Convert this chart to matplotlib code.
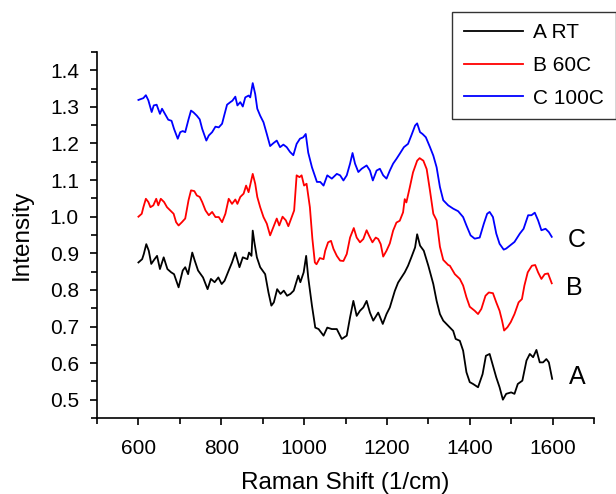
import matplotlib
matplotlib.use("Agg")
import matplotlib.pyplot as plt
from matplotlib.ticker import MultipleLocator, FormatStrFormatter

plt.rcParams['font.family'] = ['Liberation Sans', 'DejaVu Sans']

# ---- data ----
xa = [600, 609, 613, 619, 625, 631, 639, 645, 652, 661, 670, 679, 686, 697, 707, 713, 720, 730, 736, 744,
      756, 767, 775, 784, 793, 801, 808, 818, 826, 834, 844, 852, 863, 867, 873, 876, 880, 886, 894, 906,
      914, 921, 927, 935, 943, 951, 959, 967, 975, 986, 991, 999, 1005, 1010, 1019, 1027, 1035, 1047, 1056,
      1067, 1079, 1091, 1103, 1111, 1119, 1127, 1135, 1143, 1151, 1159, 1167, 1179, 1190, 1199, 1207, 1219,
      1227, 1235, 1243, 1251, 1259, 1268, 1273, 1280, 1289, 1300, 1312, 1320, 1328, 1336, 1348, 1360, 1366,
      1376, 1384, 1392, 1400, 1408, 1420, 1431, 1439, 1448, 1455, 1464, 1472, 1480, 1488, 1500, 1508, 1516,
      1527, 1537, 1545, 1553, 1561, 1569, 1577, 1585, 1591, 1599]
ya = [0.875, 0.884, 0.898, 0.925, 0.907, 0.871, 0.884, 0.893, 0.857, 0.889, 0.857, 0.848, 0.843, 0.807, 0.853,
      0.862, 0.843, 0.902, 0.880, 0.853, 0.834, 0.802, 0.830, 0.821, 0.834, 0.816, 0.825, 0.853, 0.875, 0.902,
      0.862, 0.889, 0.884, 0.902, 0.893, 0.962, 0.930, 0.889, 0.862, 0.843, 0.793, 0.757, 0.766, 0.802, 0.789,
      0.798, 0.784, 0.789, 0.798, 0.839, 0.821, 0.848, 0.893, 0.834, 0.757, 0.697, 0.693, 0.675, 0.697, 0.693,
      0.693, 0.666, 0.675, 0.725, 0.770, 0.729, 0.743, 0.752, 0.770, 0.738, 0.716, 0.738, 0.707, 0.734, 0.752,
      0.797, 0.820, 0.834, 0.848, 0.866, 0.889, 0.916, 0.952, 0.921, 0.907, 0.866, 0.816, 0.770, 0.734, 0.716,
      0.702, 0.688, 0.666, 0.661, 0.634, 0.575, 0.548, 0.543, 0.534, 0.570, 0.620, 0.625, 0.597, 0.561, 0.534,
      0.500, 0.516, 0.520, 0.516, 0.543, 0.552, 0.607, 0.625, 0.616, 0.636, 0.602, 0.602, 0.611, 0.602, 0.557]

xb = [600, 608, 612, 618, 624, 629, 636, 643, 648, 654, 662, 669, 677, 685, 691, 697, 705, 713, 721, 727,
      735, 741, 748, 754, 762, 770, 778, 786, 794, 802, 810, 818, 826, 834, 839, 846, 854, 860, 866, 876,
      882, 887, 894, 902, 910, 918, 926, 934, 940, 948, 956, 962, 970, 976, 982, 989, 994, 1000, 1006, 1014,
      1020, 1026, 1030, 1038, 1047, 1051, 1058, 1065, 1071, 1079, 1087, 1095, 1103, 1111, 1120, 1127, 1135,
      1143, 1151, 1157, 1165, 1173, 1179, 1185, 1191, 1199, 1207, 1215, 1223, 1231, 1239, 1243, 1247, 1255,
      1263, 1273, 1279, 1288, 1296, 1304, 1312, 1320, 1328, 1336, 1348, 1352, 1364, 1376, 1384, 1392, 1400,
      1412, 1420, 1428, 1438, 1446, 1456, 1464, 1472, 1478, 1483, 1491, 1499, 1508, 1518, 1526, 1532, 1540,
      1550, 1558, 1565, 1573, 1581, 1589, 1598]
yb = [1.000, 1.008, 1.026, 1.049, 1.040, 1.026, 1.031, 1.049, 1.031, 1.049, 1.040, 1.026, 1.017, 1.008, 0.985,
      0.976, 0.985, 0.995, 1.045, 1.072, 1.070, 1.058, 1.054, 1.040, 1.017, 1.004, 1.013, 0.999, 0.999, 0.985,
      1.008, 1.049, 1.035, 1.047, 1.035, 1.054, 1.063, 1.085, 1.067, 1.117, 1.090, 1.054, 1.026, 0.999, 0.981,
      0.949, 0.972, 0.995, 0.976, 1.000, 0.990, 0.974, 0.999, 1.017, 1.113, 1.108, 1.113, 1.085, 1.090, 1.026,
      0.940, 0.875, 0.870, 0.887, 0.884, 0.907, 0.930, 0.934, 0.912, 0.893, 0.880, 0.879, 0.898, 0.943, 0.969,
      0.943, 0.930, 0.939, 0.963, 0.948, 0.930, 0.943, 0.939, 0.925, 0.891, 0.907, 0.927, 0.962, 0.984, 0.989,
      1.012, 1.048, 1.039, 1.079, 1.121, 1.153, 1.160, 1.153, 1.130, 1.071, 1.008, 0.990, 0.918, 0.882, 0.868,
      0.866, 0.843, 0.830, 0.812, 0.780, 0.754, 0.743, 0.734, 0.748, 0.784, 0.793, 0.791, 0.766, 0.743, 0.716,
      0.689, 0.698, 0.712, 0.734, 0.766, 0.775, 0.812, 0.848, 0.866, 0.868, 0.848, 0.830, 0.843, 0.845, 0.818]

xc = [600, 612, 618, 624, 632, 637, 644, 652, 657, 664, 672, 680, 686, 695, 701, 707, 713, 721, 727, 733,
      741, 748, 754, 764, 770, 778, 786, 794, 802, 807, 814, 822, 827, 834, 839, 846, 852, 858, 866, 870,
      876, 882, 887, 894, 902, 910, 918, 926, 934, 942, 950, 958, 966, 974, 982, 990, 998, 1004, 1010, 1019,
      1031, 1039, 1047, 1056, 1067, 1079, 1087, 1095, 1103, 1111, 1117, 1123, 1131, 1139, 1151, 1159, 1166,
      1175, 1183, 1191, 1199, 1207, 1215, 1223, 1231, 1241, 1251, 1259, 1268, 1273, 1280, 1286, 1294, 1304,
      1312, 1320, 1328, 1336, 1348, 1360, 1372, 1384, 1392, 1402, 1412, 1424, 1434, 1442, 1448, 1456, 1464,
      1472, 1482, 1488, 1498, 1508, 1521, 1530, 1541, 1549, 1557, 1565, 1573, 1583, 1591, 1598]
yc = [1.319, 1.324, 1.332, 1.318, 1.286, 1.304, 1.306, 1.281, 1.295, 1.281, 1.265, 1.262, 1.240, 1.213, 1.231,
      1.234, 1.231, 1.266, 1.290, 1.285, 1.276, 1.266, 1.240, 1.208, 1.222, 1.231, 1.246, 1.244, 1.254, 1.276,
      1.306, 1.313, 1.317, 1.328, 1.304, 1.313, 1.301, 1.326, 1.331, 1.326, 1.365, 1.335, 1.295, 1.276, 1.258,
      1.226, 1.193, 1.201, 1.208, 1.190, 1.197, 1.190, 1.177, 1.168, 1.199, 1.213, 1.217, 1.226, 1.175, 1.135,
      1.095, 1.095, 1.085, 1.113, 1.104, 1.117, 1.113, 1.099, 1.113, 1.145, 1.174, 1.145, 1.122, 1.131, 1.140,
      1.126, 1.099, 1.126, 1.131, 1.113, 1.104, 1.126, 1.145, 1.158, 1.172, 1.190, 1.199, 1.222, 1.249, 1.255,
      1.231, 1.226, 1.217, 1.190, 1.167, 1.135, 1.081, 1.045, 1.031, 1.022, 1.015, 0.999, 0.976, 0.949, 0.940,
      0.943, 0.981, 1.008, 1.013, 0.999, 0.954, 0.926, 0.910, 0.913, 0.922, 0.931, 0.954, 0.967, 1.004, 1.004,
      1.011, 0.990, 0.963, 0.967, 0.958, 0.945]

series_labels = ['A RT', 'B 60C', 'C 100C']
series_colors = ['black', 'red', 'blue']
curve_tags = ['A', 'B', 'C']
xlabel = 'Raman Shift (1/cm)'
ylabel = 'Intensity'

fig = plt.figure(figsize=(6.16, 4.94), dpi=100)
ax = fig.add_axes([97/616, 76/494, 497/616, 366/494])

lines = []
for xs, ys, lab, col in zip([xa, xb, xc], [ya, yb, yc], series_labels, series_colors):
    ln, = ax.plot(xs, ys, color=col, lw=1.3, label=lab)
    lines.append(ln)

ax.set_xlim(500, 1700)
ax.set_ylim(0.45, 1.45)
ax.xaxis.set_major_locator(MultipleLocator(200))
ax.xaxis.set_minor_locator(MultipleLocator(100))
ax.yaxis.set_major_locator(MultipleLocator(0.1))
ax.yaxis.set_minor_locator(MultipleLocator(0.05))
ax.yaxis.set_major_formatter(FormatStrFormatter('%.1f'))
ax.spines['top'].set_visible(False)
ax.spines['right'].set_visible(False)
for s in ('left', 'bottom'):
    ax.spines[s].set_linewidth(1.2)
ax.tick_params(which='major', length=5, width=1.2, labelsize=15)
ax.tick_params(which='minor', length=4, width=1.2)
ax.tick_params(axis='x', which='major', pad=10)
ax.tick_params(axis='y', which='major', pad=8)

ax.set_xlabel(xlabel, fontsize=17.5, labelpad=10)
ax.set_ylabel(ylabel, fontsize=17.5, labelpad=12)

# curve tags at right
tag_pos = [(1660, 0.563), (1653, 0.806), (1658, 0.937)]
for t, (tx, ty) in zip(curve_tags, tag_pos):
    ax.text(tx, ty, t, fontsize=18, ha='center', va='center')

leg = fig.legend(handles=lines, labels=series_labels, loc='upper right',
                 bbox_to_anchor=(615.5/616, 1 - 12/494), fontsize=15,
                 frameon=True, fancybox=False, edgecolor='black',
                 handlelength=2.85, handletextpad=0.48, labelspacing=0.65,
                 borderpad=0.55, borderaxespad=0)
leg.get_frame().set_linewidth(1.0)

fig.savefig('out.png', dpi=100)
